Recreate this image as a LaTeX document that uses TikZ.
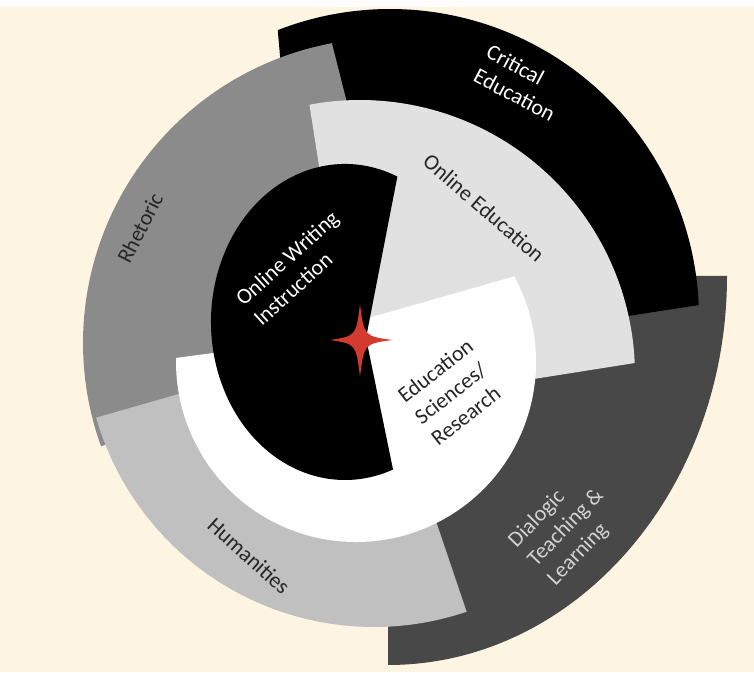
\documentclass[tikz,border=0pt]{standalone}
\usepackage{fontspec}
\setmainfont{Carlito}
\usetikzlibrary{calc}
\definecolor{bgcream}{RGB}{253,245,225}
\definecolor{dkgray}{RGB}{72,72,72}
\definecolor{midgray}{RGB}{139,139,139}
\definecolor{silver}{RGB}{192,192,192}
\definecolor{pale}{RGB}{225,225,225}
\definecolor{starred}{RGB}{212,58,46}
\tikzset{
  ringtext/.style={font=\fontsize{22}{27}\selectfont,align=left,inner sep=0pt},
  darktext/.style={ringtext,text=black!85},
  lighttext/.style={ringtext,text=white},
}
\begin{document}
\begin{tikzpicture}[x=1pt,y=1pt]
  \useasboundingbox (0,0) rectangle (754,672);
  \fill[bgcream] (0,0) rectangle (754,672);
  \fill[white] (0,665) rectangle (754,672);

  % centres of the arcs
  \coordinate (dlg) at (388,396);
  \coordinate (crit) at (390,354);
  \coordinate (rhet) at (388,329);
  \coordinate (oned) at (360,297);
  \coordinate (hum) at (374,334);
  \coordinate (edsc) at (356,310);
  \coordinate (owi) at (345,350);
  \coordinate (apex) at (366,334);
  \coordinate (star) at (360,332);

  % outer ring
  \fill[dkgray] (dlg) -- ++(339,0) arc[start angle=0,end angle=-90,x radius=339,y radius=389] -- cycle;
  \fill[black] ($(crit)+(111.3:309)$) arc[start angle=111.3,end angle=2.4,radius=309]
    -- ($(crit)+(-1.1:200)$) arc[start angle=-1.1,end angle=120.7,radius=200] -- cycle;
  \fill[midgray] ($(rhet)+(100.6:305)$) arc[start angle=100.6,end angle=199.8,radius=305]
    -- ($(rhet)+(200:120)$) arc[start angle=200,end angle=95,radius=120] -- cycle;
  % middle ring
  \fill[pale] (335,404) -- ($(oned)+(100.6:275)$) arc[start angle=100.6,end angle=2.5,radius=275]
    -- (420,275) -- cycle;
  \fill[silver] ($(hum)+(196:289)$) arc[start angle=196,end angle=288.7,radius=289]
    -- ($(hum)+(288.7:170)$) arc[start angle=288.7,end angle=196,radius=170] -- cycle;
  % inner pieces
  \fill[white] (274,327) -- ($(edsc)+(28.4:180)$) arc[start angle=28.4,end angle=-181.3,radius=180] -- cycle;
  \fill[black] (apex) -- ($(owi)+(67:134 and 158)$)
    arc[start angle=67,end angle=291,x radius=134,y radius=158] -- cycle;
  \fill[starred,shift={(star)}] (0,36) .. controls (4,4) .. (32,0) .. controls (4,-4) .. (0,-37)
    .. controls (-4,-4) .. (-30,0) .. controls (-4,4) .. (0,36) -- cycle;

  % labels
  \node[lighttext,rotate=-28] (critlbl) at (521,589) {Critical\\Education};
  \node[darktext,rotate=-41] (onedlbl) at (484,464) {Online Education};
  \node[darktext,rotate=63] (rhetlbl) at (140,444) {Rhetoric};
  \node[lighttext,rotate=42] (owilbl) at (296,404) {Online Writing\\Instruction};
  \node[darktext,rotate=38] (edsclbl) at (452,280) {Education\\Sciences/\\Research};
  \node[darktext,rotate=-42] (humlbl) at (249,116) {Humanities};
  \node[ringtext,text=silver!70!white,rotate=46] (dlglbl) at (566,144) {Dialogic\\Teaching \&\\Learning};
\end{tikzpicture}
\end{document}
